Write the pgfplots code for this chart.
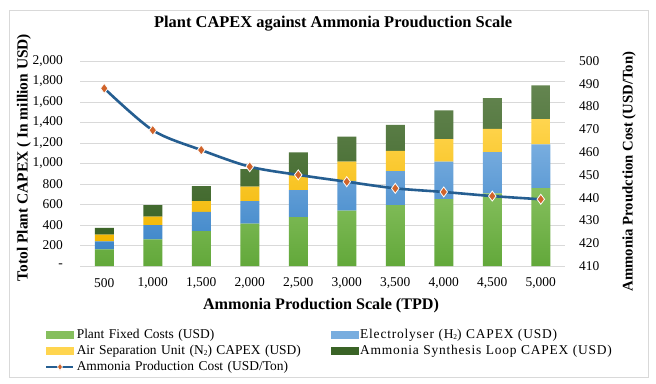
\documentclass[border=0pt]{standalone}
\usepackage{fontspec}
\setmainfont{Liberation Serif}
\usepackage{pgfplots}
\pgfplotsset{compat=1.18}
\definecolor{gridgray}{HTML}{D9D9D9}
\definecolor{frameg}{HTML}{D9D9D9}
\definecolor{gTop}{HTML}{86BF5E}
\definecolor{gBot}{HTML}{62A83A}
\definecolor{bTop}{HTML}{78ADDF}
\definecolor{bBot}{HTML}{3E86C9}
\definecolor{yTop}{HTML}{FFD54F}
\definecolor{yBot}{HTML}{F2B600}
\definecolor{dTop}{HTML}{648550}
\definecolor{dBot}{HTML}{3A6326}
\definecolor{lineblue}{HTML}{255E91}
\definecolor{mkorange}{HTML}{D0632A}
\newcommand{\sub}[1]{\raisebox{-0.15ex}{\fontsize{7.5}{8}\selectfont #1}}
\pgfplotstableread{
x fixed elec asu loop
0 163 78 64 66
1 260 140 81 114
2 341 186 107 146
3 413 221 140 172
4 478 262 142 226
5 540 290 188 244
6 595 330 198 254
7 652 366 221 280
8 708 404 225 302
9 760 427 247 329
}\capex
\pgfplotstableread{
x cost
0 488.0
1 469.6
2 460.9
3 453.6
4 450.0
5 447.0
6 444.1
7 442.5
8 440.7
9 439.3
}\cost
\begin{document}
\begin{tikzpicture}[x=1bp,y=1bp]
\useasboundingbox (0,0) rectangle (656,383);
\fill[white] (0,0) rectangle (656,383);
\draw[frameg, line width=0.8bp] (9,6) rectangle (648,373);
\begin{axis}[
  at={(80bp,117bp)}, anchor=south west,
  scale only axis, width=485bp, height=205bp,
  ybar stacked, bar width=19bp,
  xmin=-0.5, xmax=9.5, ymin=0, ymax=2000,
  xtick={0,...,9},
  xticklabels={500,{1,000},{1,500},{2,000},{2,500},{3,000},{3,500},{4,000},{4,500},{5,000}},
  ytick={0,200,...,2000},
  yticklabels={-,200,400,600,800,{1,000},{1,200},{1,400},{1,600},{1,800},{2,000}},
  ymajorgrids, grid style={color=gridgray, line width=0.8bp},
  axis line style={draw=none},
  major tick length=0pt,
  tick label style={font=\fontsize{13.5}{16}\selectfont, inner sep=0pt},
  /pgf/number format/assume math mode=true,
  yticklabel style={anchor=east, xshift=-17bp},
  xticklabel style={anchor=center, yshift=-17bp},
  title={\bfseries Plant CAPEX against Ammonia Prouduction Scale},
  title style={font=\fontsize{16.5}{18}\selectfont, at={(rel axis cs:0.522,1.151)}, anchor=center},
  xlabel={\bfseries Ammonia Production Scale (TPD)},
  xlabel style={font=\fontsize{16.2}{18}\selectfont, at={(rel axis cs:0.497,-0.195)}, anchor=center},
  ylabel={\bfseries Totol Plant CAPEX ( In million USD)},
  every axis y label/.style={font=\fontsize{15.5}{17}\selectfont, at={(rel axis cs:-0.1155,0.529)}, anchor=center, rotate=90},
]
\addplot[draw=none, top color=gTop, bottom color=gBot] table[x=x,y=fixed]{\capex};
\addplot[draw=none, top color=bTop, bottom color=bBot] table[x=x,y=elec]{\capex};
\addplot[draw=none, top color=yTop, bottom color=yBot] table[x=x,y=asu]{\capex};
\addplot[draw=none, top color=dTop, bottom color=dBot] table[x=x,y=loop]{\capex};
\end{axis}
\begin{axis}[
  at={(80bp,117bp)}, anchor=south west,
  scale only axis, width=485bp, height=205bp,
  xmin=-0.5, xmax=9.5, ymin=410, ymax=500,
  hide x axis,
  axis line style={draw=none},
  major tick length=0pt,
  ytick={410,420,...,500},
  yticklabel pos=right,
  tick label style={font=\fontsize{13.5}{16}\selectfont, inner sep=0pt},
  /pgf/number format/assume math mode=true,
  yticklabel style={anchor=west, xshift=14bp},
  ylabel={\bfseries Ammonia Proudction Cost (USD/Ton)},
  every axis y label/.style={font=\fontsize{14.8}{17}\selectfont, at={(rel axis cs:1.132,0.461)}, anchor=center, rotate=90},
  legend columns=2,
  legend cell align=left,
  legend style={at={(rel axis cs:-0.0722,-0.296)}, anchor=north west, draw=none, fill=none, inner sep=0pt,
    font=\fontsize{13.5}{15}\selectfont, row sep=1.5bp, column sep=0pt,
    /tikz/column 2/.style={text width=252bp},
    /tikz/column 4/.style={text width=280bp}},
]
\addlegendimage{legend image code/.code={\fill[gTop] (0bp,-3.5bp) rectangle (27bp,3.5bp);}}
\addlegendentry{Plant Fixed Costs (USD)}
\addlegendimage{legend image code/.code={\fill[bTop] (0bp,-3.5bp) rectangle (27bp,3.5bp);}}
\addlegendentry{\addfontfeature{LetterSpace=6}Electrolyser (H\sub{2}) CAPEX (USD)}
\addlegendimage{legend image code/.code={\fill[yTop] (0bp,-3.5bp) rectangle (27bp,3.5bp);}}
\addlegendentry{Air Separation Unit (N\sub{2}) CAPEX (USD)}
\addlegendimage{legend image code/.code={\fill[dBot] (0bp,-3.5bp) rectangle (27bp,3.5bp);}}
\addlegendentry{\addfontfeature{LetterSpace=6}Ammonia Synthesis Loop CAPEX (USD)}
\addplot[lineblue, line width=2.6bp, smooth, mark=diamond*, mark size=5bp,
  mark options={fill=mkorange, draw=white, line width=0.8bp, solid},
  legend image code/.code={\draw[lineblue, line width=2.6bp] (0bp,0bp) -- (27bp,0bp);
     \filldraw[mkorange, draw=white, line width=0.6bp] (13.5bp,0bp) +(0,3.5bp) -- +(2.5bp,0) -- +(0,-3.5bp) -- +(-2.5bp,0) -- cycle;}]
  table[x=x,y=cost]{\cost};
\addlegendentry{Ammonia Production Cost (USD/Ton)}
\end{axis}
\end{tikzpicture}
\end{document}
